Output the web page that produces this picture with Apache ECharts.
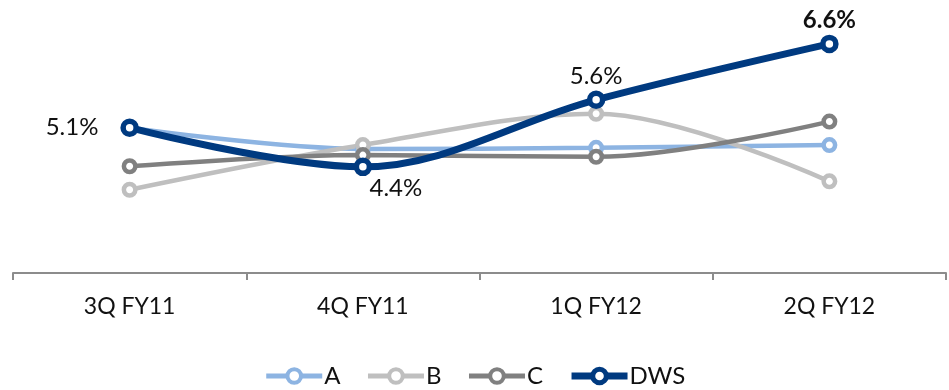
<!DOCTYPE html>
<html>
<head>
<meta charset="utf-8">
<script src="https://cdn.jsdelivr.net/npm/echarts@6/dist/echarts.min.js"></script>
<style>
  html, body { margin: 0; padding: 0; background: #fff; }
  #chart { width: 949px; height: 390px; }
</style>
</head>
<body>
<div id="chart"></div>
<script>
// Quarters on the x axis
const categories = ['3Q FY11', '4Q FY11', '1Q FY12', '2Q FY12'];

// Series values (percent)
const seriesA = [5.1, 4.72, 4.74, 4.79];
const seriesB = [3.99, 4.79, 5.35, 4.14];
const seriesC = [4.41, 4.61, 4.58, 5.21];
const seriesDWS = [5.1, 4.4, 5.6, 6.6];

// Label placement for the DWS points
const dwsLabelPos = ['left', 'bottom', 'top', 'top'];

const FONT = 'Lato, "Noto Sans", sans-serif';

const styles = {
  A:   { color: '#8DB4E2', width: 4.5, size: 11.5, border: 4.5 },
  B:   { color: '#BFBFBF', width: 4.5, size: 11.5, border: 4.5 },
  C:   { color: '#808080', width: 4.5, size: 11.5, border: 4.5 },
  DWS: { color: '#003A80', width: 7,   size: 13,   border: 5.5 }
};

// Ring markers: white fill with a thick coloured border
function lineSeries(name, data) {
  const s = styles[name];
  return {
    name: name,
    type: 'line',
    data: data,
    smooth: 0.35,
    symbol: 'circle',
    symbolSize: s.size,
    showAllSymbol: true,
    lineStyle: { color: s.color, width: s.width },
    itemStyle: { color: '#ffffff', borderColor: s.color, borderWidth: s.border },
    emphasis: { disabled: true }
  };
}

const dws = lineSeries('DWS', seriesDWS.map((v, i) => ({
  value: v,
  label: {
    show: true,
    position: dwsLabelPos[i],
    distance: i === 0 ? 22 : (i === 1 ? 0 : 2),
    offset: i === 1 ? [33, 0] : [0, 0],
    formatter: p => p.value.toFixed(1) + '%',
    fontSize: 24,
    fontFamily: FONT,
    color: '#111',
    fontWeight: i === 3 ? 'bold' : 'normal'
  }
})));
dws.z = 5;

const legendData = ['A', 'B', 'C', 'DWS'].map(n => ({
  name: n,
  lineStyle: { width: n === 'DWS' ? 7 : 5 },
  itemStyle: { borderWidth: n === 'DWS' ? 5 : 4 }
}));

const chart = echarts.init(document.getElementById('chart'));
chart.setOption({
  animation: false,
  grid: { left: 13, right: 3, top: 2, height: 271 },
  legend: {
    bottom: -3,
    left: 'center',
    itemWidth: 56,
    itemHeight: 17,
    itemGap: 25,
    textStyle: { fontSize: 24, fontFamily: FONT, color: '#111', padding: [0, 0, 0, -3] },
    data: legendData
  },
  xAxis: {
    type: 'category',
    data: categories,
    boundaryGap: true,
    axisLine: { lineStyle: { color: '#8c8c8c', width: 2 } },
    axisTick: { show: true, length: 7, lineStyle: { color: '#8c8c8c', width: 2 } },
    axisLabel: { fontSize: 23, fontFamily: FONT, color: '#111', margin: 22 }
  },
  yAxis: {
    type: 'value',
    min: 2.5,
    max: 7.35,
    show: false,
    splitLine: { show: false }
  },
  series: [
    lineSeries('A', seriesA),
    lineSeries('B', seriesB),
    lineSeries('C', seriesC),
    dws
  ]
});
</script>
</body>
</html>
